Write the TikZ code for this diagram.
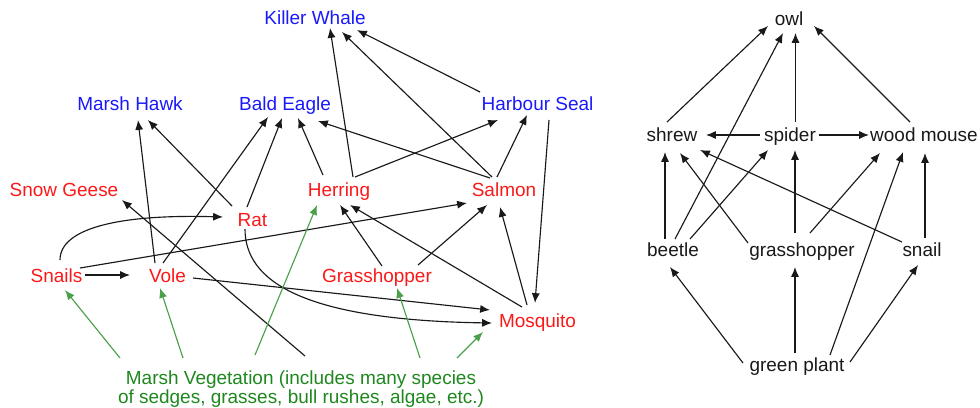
\documentclass[tikz,border=0pt]{standalone}
\usepackage{fontspec}
\setmainfont{Liberation Sans}
\usetikzlibrary{arrows.meta}
\definecolor{cblue}{RGB}{25,25,250}
\definecolor{cred}{RGB}{250,25,25}
\definecolor{cgreen}{RGB}{30,135,30}
\definecolor{cgline}{RGB}{75,160,75}
\definecolor{cdark}{RGB}{25,25,25}
\begin{document}
\begin{tikzpicture}[x=0.02cm,y=-0.02cm,
  lbl/.style={inner sep=0pt, text height=0.72em, text depth=0pt, font=\fontsize{10.8}{13}\selectfont},
  bluelbl/.style={lbl,text=cblue},
  redlbl/.style={lbl,text=cred},
  veglbl/.style={inner sep=0pt, align=center, text=cgreen, font=\fontsize{10.8}{10.5}\selectfont},
  blacklbl/.style={lbl,text=cdark},
  arr/.style={line width=0.65pt, draw=cdark, -{Latex[length=5.6pt,width=4.6pt]}},
  garr/.style={arr, draw=cgline}
]
\useasboundingbox (0,0) rectangle (980,407);

% ---------- left food web ----------
\node[bluelbl] (kw) at (315,18) {Killer Whale};
\node[bluelbl] (mh) at (130,104) {Marsh Hawk};
\node[bluelbl] (be) at (285,104) {Bald Eagle};
\node[bluelbl] (hs) at (537.5,104) {Harbour Seal};
\node[redlbl] (sg) at (64,190) {Snow Geese};
\node[redlbl] (her) at (339,190) {Herring};
\node[redlbl] (sal) at (504,190) {Salmon};
\node[redlbl] (rat) at (252.5,220) {Rat};
\node[redlbl] (sna) at (56.5,276) {Snails};
\node[redlbl] (vol) at (167.5,276) {Vole};
\node[redlbl] (gh) at (377,276) {Grasshopper};
\node[redlbl] (mos) at (537.5,321) {Mosquito};
\node[veglbl] (mv) at (301,389) {Marsh Vegetation (includes many species\\of sedges, grasses, bull rushes, algae, etc.)};

\draw[arr] ([shift={(14,-13)}]her.center) -- ([shift={(15,10)}]kw.center);
\draw[arr] ([shift={(-12,-13)}]sal.center) -- ([shift={(27,14)}]kw.center);
\draw[arr] ([shift={(-57.5,-12)}]hs.center) -- ([shift={(42,12)}]kw.center);
\draw[arr] ([shift={(-12.5,-13)}]vol.center) -- ([shift={(8,16)}]mh.center);
\draw[arr] ([shift={(-20.5,-14)}]rat.center) -- ([shift={(18,16)}]mh.center);
\draw[arr] ([shift={(-4.5,-13)}]vol.center) -- ([shift={(-17,13)}]be.center);
\draw[arr] ([shift={(-5.5,-13)}]rat.center) -- ([shift={(-3,14)}]be.center);
\draw[arr] ([shift={(-16,-15)}]her.center) -- ([shift={(13,14)}]be.center);
\draw[arr] ([shift={(-14,-12)}]sal.center) -- ([shift={(33,17)}]be.center);
\draw[arr] ([shift={(16,-13)}]her.center) -- ([shift={(-39.5,16)}]hs.center);
\draw[arr] ([shift={(-7,-13)}]sal.center) -- ([shift={(-10.5,11)}]hs.center);
\draw[arr] ([shift={(11.5,16)}]hs.center) -- ([shift={(-2.5,-18)}]mos.center);
\draw[arr] ([shift={(5,-10)}]gh.center) -- ([shift={(1,15)}]her.center);
\draw[arr] ([shift={(-15.5,-14)}]mos.center) -- ([shift={(11,15)}]her.center);
\draw[arr] ([shift={(23.5,-8)}]sna.center) -- ([shift={(-37,13)}]sal.center);
\draw[arr] ([shift={(41,-11)}]gh.center) -- ([shift={(-17,15)}]sal.center);
\draw[arr] ([shift={(-10.5,-16)}]mos.center) -- ([shift={(-4,17)}]sal.center);
\draw[arr] ([shift={(25.5,2)}]vol.center) -- ([shift={(-47.5,-11)}]mos.center);
\draw[arr] ([shift={(-7.5,9)}]rat.center) .. controls (245,280) and (300,320) .. ([shift={(-45.5,2)}]mos.center);
\draw[arr] ([shift={(3.5,-16)}]sna.center) .. controls (60,228) and (120,214) .. ([shift={(-29.5,-3)}]rat.center);
\draw[arr] ([shift={(28.5,-1)}]sna.center) -- ([shift={(-37.5,-1)}]vol.center);
\draw[arr] ([shift={(4,-33)}]mv.center) -- ([shift={(58,10)}]sg.center);
\draw[garr] ([shift={(-181,-31)}]mv.center) -- ([shift={(8.5,14)}]sna.center);
\draw[garr] ([shift={(-118,-31)}]mv.center) -- ([shift={(-7.5,12)}]vol.center);
\draw[garr] ([shift={(-46,-34)}]mv.center) -- ([shift={(-22,15)}]her.center);
\draw[garr] ([shift={(119,-31)}]mv.center) -- ([shift={(20,12)}]gh.center);
\draw[garr] ([shift={(156,-31)}]mv.center) -- ([shift={(-54.5,11)}]mos.center);

% ---------- right food web ----------
\node[blacklbl] (owl) at (789,19) {owl};
\node[blacklbl] (shr) at (672,135) {shrew};
\node[blacklbl] (spi) at (790,135) {spider};
\node[blacklbl] (wm) at (924,135) {wood mouse};
\node[blacklbl] (bee) at (673,250) {beetle};
\node[blacklbl] (rgh) at (802,250) {grasshopper};
\node[blacklbl] (snl) at (922,250) {snail};
\node[blacklbl] (gp) at (797,365) {green plant};

\draw[arr] ([shift={(-5,-13)}]shr.center) -- ([shift={(-21,7)}]owl.center);
\draw[arr] ([shift={(2,-11)}]bee.center) -- ([shift={(-6,14)}]owl.center);
\draw[arr] ([shift={(5.5,-13)}]spi.center) -- ([shift={(6.5,14)}]owl.center);
\draw[arr] ([shift={(-14,-13)}]wm.center) -- ([shift={(25,7)}]owl.center);
\draw[arr] ([shift={(-30,0)}]spi.center) -- ([shift={(34,0)}]shr.center);
\draw[arr] ([shift={(29,0)}]spi.center) -- ([shift={(-55,0)}]wm.center);
\draw[arr] ([shift={(-8,-11)}]bee.center) -- ([shift={(-7,17)}]shr.center);
\draw[arr] ([shift={(-54,-7)}]rgh.center) -- ([shift={(8,18)}]shr.center);
\draw[arr] ([shift={(-20,-8)}]snl.center) -- ([shift={(28,15)}]shr.center);
\draw[arr] ([shift={(17,-11)}]bee.center) -- ([shift={(-22,15)}]spi.center);
\draw[arr] ([shift={(-7,-17)}]rgh.center) -- ([shift={(5,15)}]spi.center);
\draw[arr] ([shift={(8,-17)}]rgh.center) -- ([shift={(-44,18)}]wm.center);
\draw[arr] ([shift={(33,-10)}]gp.center) -- ([shift={(-21,17)}]wm.center);
\draw[arr] ([shift={(3,-12)}]snl.center) -- ([shift={(1,18)}]wm.center);
\draw[arr] ([shift={(-54,-2)}]gp.center) -- ([shift={(-3,17)}]bee.center);
\draw[arr] ([shift={(-2,-12)}]gp.center) -- ([shift={(-7,17)}]rgh.center);
\draw[arr] ([shift={(53,-3)}]gp.center) -- ([shift={(-4,15)}]snl.center);
\end{tikzpicture}
\end{document}
